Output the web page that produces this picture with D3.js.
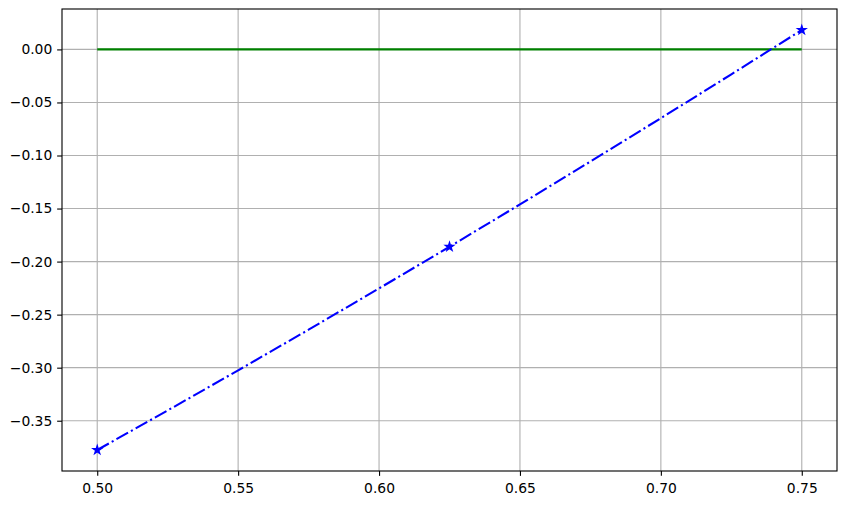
<!DOCTYPE html>
<html>
<head>
<meta charset="utf-8">
<script src="https://cdn.jsdelivr.net/npm/d3@7"></script>
<style>
body { margin: 0; background: #fff; }
</style>
</head>
<body>
<div id="chart"></div>
<script>
// curve (blue dash-dot)
var curveX = [0.5, 0.525, 0.55, 0.575, 0.6, 0.625, 0.65, 0.675, 0.7, 0.725, 0.75];
var curveY = [-0.3776, -0.3403, -0.3025, -0.2642, -0.2253, -0.1860, -0.1461, -0.1057, -0.0648, -0.0235, 0.0183];
// star markers
var markX = [0.5, 0.625, 0.75];
var markY = [-0.3776, -0.1860, 0.0183];
// green zero line
var zeroX = [0.5, 0.75];
var zeroY = [0, 0];
var xTicks = [0.50, 0.55, 0.60, 0.65, 0.70, 0.75];
var yTicks = [0.00, -0.05, -0.10, -0.15, -0.20, -0.25, -0.30, -0.35];

var width = 847, height = 505;
var axLeft = 62, axRight = 837, axTop = 9, axBottom = 471;

var svg = d3.select("#chart").append("svg")
    .attr("width", width)
    .attr("height", height);

// matplotlib style 5% margins
var xmin = d3.min(curveX), xmax = d3.max(curveX);
var ymin = d3.min(curveY.concat(zeroY)), ymax = d3.max(curveY.concat(zeroY));
var xpad = (xmax - xmin) * 0.05, ypad = (ymax - ymin) * 0.05;

var x = d3.scaleLinear().domain([xmin - xpad, xmax + xpad]).range([axLeft, axRight]);
var y = d3.scaleLinear().domain([ymin - ypad, ymax + ypad]).range([axBottom, axTop]);

function fmt(v) {
    return d3.format(".2f")(v).replace("-", "\u2212");
}

// grid
svg.append("g").selectAll("line")
    .data(xTicks).enter()
    .append("line")
    .attr("x1", function (d) { return x(d); })
    .attr("x2", function (d) { return x(d); })
    .attr("y1", axTop).attr("y2", axBottom)
    .attr("stroke", "#b0b0b0").attr("stroke-width", 1.11);
svg.append("g").selectAll("line")
    .data(yTicks).enter()
    .append("line")
    .attr("y1", function (d) { return y(d); })
    .attr("y2", function (d) { return y(d); })
    .attr("x1", axLeft).attr("x2", axRight)
    .attr("stroke", "#b0b0b0").attr("stroke-width", 1.11);

var line = d3.line()
    .x(function (d) { return x(d[0]); })
    .y(function (d) { return y(d[1]); });

svg.append("path")
    .datum(d3.zip(zeroX, zeroY))
    .attr("d", line)
    .attr("fill", "none")
    .attr("stroke", "#008000")
    .attr("stroke-width", 2.08);

svg.append("path")
    .datum(d3.zip(curveX, curveY))
    .attr("d", line)
    .attr("fill", "none")
    .attr("stroke", "#0000ff")
    .attr("stroke-width", 2.08)
    .attr("stroke-dasharray", "13.3,3.33,2.08,3.33");

svg.append("g").selectAll("path")
    .data(d3.zip(markX, markY)).enter()
    .append("path")
    .attr("transform", function (d) { return "translate(" + x(d[0]) + "," + y(d[1]) + ")"; })
    .attr("d", d3.symbol().type(d3.symbolStar).size(20))
    .attr("fill", "#0000ff")
    .attr("stroke", "#0000ff")
    .attr("stroke-width", 1.39)
    .attr("stroke-linejoin", "miter");

// axes
var xAxis = d3.axisBottom(x).tickValues(xTicks).tickFormat(fmt)
    .tickSize(4.86).tickPadding(4.86);
var yAxis = d3.axisLeft(y).tickValues(yTicks).tickFormat(fmt)
    .tickSize(4.86).tickPadding(4.86);

var gx = svg.append("g").attr("transform", "translate(0," + axBottom + ")").call(xAxis);
var gy = svg.append("g").attr("transform", "translate(" + axLeft + ",0)").call(yAxis);
[gx, gy].forEach(function (g) {
    g.select(".domain").remove();
    g.selectAll(".tick line").attr("stroke", "#000").attr("stroke-width", 1.11);
    g.selectAll("text").attr("font-family", "DejaVu Sans").attr("font-size", "13.89px").attr("fill", "#000");
});
gx.selectAll("text").attr("dy", "0.85em");

svg.append("rect")
    .attr("x", axLeft).attr("y", axTop)
    .attr("width", axRight - axLeft).attr("height", axBottom - axTop)
    .attr("fill", "none")
    .attr("stroke", "#000")
    .attr("stroke-width", 1.11);
</script>
</body>
</html>
